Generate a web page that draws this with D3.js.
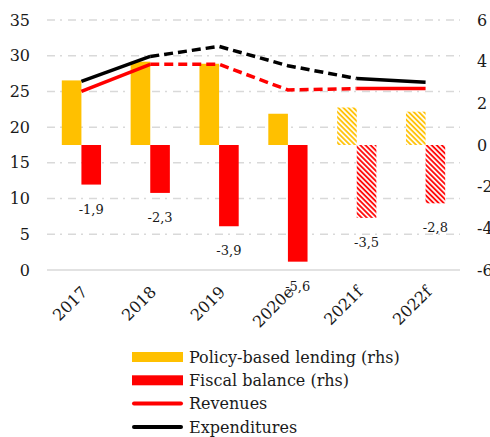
<!DOCTYPE html>
<html>
<head>
<meta charset="utf-8">
<script src="https://cdn.jsdelivr.net/npm/d3@7/dist/d3.min.js"></script>
<style>
  body { margin: 0; background: #fff; }
  svg { display: block; }
  text { font-family: "DejaVu Serif", serif; fill: #1a1a1a; }
</style>
</head>
<body>
<div id="corpo"></div>
<script>
// dados
var years = ["2017", "2018", "2019", "2020e", "2021f", "2022f"];
var forecast = [false, false, false, false, true, true];
var lending = [3.1, 4.0, 3.9, 1.5, 1.8, 1.6];        // rhs
var fiscal = [-1.9, -2.3, -3.9, -5.6, -3.5, -2.8];   // rhs
var revenues = [25.0, 28.8, 28.8, 25.2, 25.4, 25.4]; // lhs
var expenditures = [26.4, 29.9, 31.3, 28.6, 26.8, 26.3];
var leftTicks = [0, 5, 10, 15, 20, 25, 30, 35];
var rightTicks = [-6, -4, -2, 0, 2, 4, 6];
var legendItems = [
  { name: "Policy-based lending (rhs)", type: "bar", color: "#ffc000" },
  { name: "Fiscal balance (rhs)", type: "bar", color: "#ff0000" },
  { name: "Revenues", type: "line", color: "#ff0000" },
  { name: "Expenditures", type: "line", color: "#000000" }
];

var width = 490, height = 437;
var svg = d3.select("#corpo").append("svg")
  .attr("width", width)
  .attr("height", height);

var plotLeft = 47, plotRight = 460, plotTop = 20, plotBottom = 270;

var x = d3.scaleBand()
  .domain(years)
  .range([plotLeft, plotRight])
  .paddingInner(0.43)
  .paddingOuter(0.215);
var bw = x.bandwidth() / 2;
var cx = function(d) { return x(d) + x.bandwidth() / 2; };

var yL = d3.scaleLinear().domain([0, 35]).range([plotBottom, plotTop]);
var yR = d3.scaleLinear().domain([-6, 6]).range([plotBottom, plotTop]);

/* hachuras das previsões */
var defs = svg.append("defs");
function hatch(id, color) {
  var p = defs.append("pattern")
    .attr("id", id)
    .attr("patternUnits", "userSpaceOnUse")
    .attr("width", 3.6)
    .attr("height", 3.6)
    .attr("patternTransform", "rotate(-45)");
  p.append("rect").attr("width", 3.6).attr("height", 3.6).attr("fill", "#fff");
  p.append("line")
    .attr("x1", 1).attr("y1", 0).attr("x2", 1).attr("y2", 3.6)
    .attr("stroke", color).attr("stroke-width", 1.8);
}
hatch("hatch-yellow", "#ffc000");
hatch("hatch-red", "#ff0000");

/* grade */
svg.append("g").selectAll("line")
  .data(leftTicks.filter(function(t) { return t > 0; }))
  .enter().append("line")
  .attr("x1", plotLeft).attr("x2", plotRight)
  .attr("y1", function(d) { return yL(d); })
  .attr("y2", function(d) { return yL(d); })
  .attr("stroke", "#d9d9d9")
  .attr("stroke-width", 1.5)
  .attr("stroke-dasharray", "8,5,2,6");

svg.append("line")
  .attr("x1", plotLeft).attr("x2", plotRight)
  .attr("y1", yL(0)).attr("y2", yL(0))
  .attr("stroke", "#d9d9d9")
  .attr("stroke-width", 1.5);

/* eixos */
var leftAxis = svg.append("g");
leftAxis.selectAll("text")
  .data(leftTicks)
  .enter().append("text")
  .attr("x", 30)
  .attr("y", function(d) { return yL(d); })
  .attr("dy", "0.35em")
  .attr("text-anchor", "end")
  .attr("font-size", 16)
  .text(function(d) { return d; });

var rightAxis = svg.append("g");
rightAxis.selectAll("text")
  .data(rightTicks)
  .enter().append("text")
  .attr("x", 477)
  .attr("y", function(d) { return yR(d); })
  .attr("dy", "0.35em")
  .attr("text-anchor", "start")
  .attr("font-size", 16)
  .text(function(d) { return d; });

svg.append("g").selectAll("text")
  .data(years)
  .enter().append("text")
  .attr("transform", function(d) { return "translate(" + (cx(d) + 7) + "," + 293 + ") rotate(-45)"; })
  .attr("text-anchor", "end")
  .attr("font-size", 16)
  .text(function(d) { return d; });

/* barras */
var bars = svg.append("g");
bars.selectAll("rect.lending")
  .data(years)
  .enter().append("rect")
  .attr("class", "lending")
  .attr("x", function(d) { return x(d); })
  .attr("width", bw)
  .attr("y", function(d, i) { return yR(lending[i]); })
  .attr("height", function(d, i) { return yR(0) - yR(lending[i]); })
  .attr("fill", function(d, i) { return forecast[i] ? "url(#hatch-yellow)" : "#ffc000"; });

bars.selectAll("rect.fiscal")
  .data(years)
  .enter().append("rect")
  .attr("class", "fiscal")
  .attr("x", function(d) { return x(d) + bw; })
  .attr("width", bw)
  .attr("y", yR(0))
  .attr("height", function(d, i) { return yR(fiscal[i]) - yR(0); })
  .attr("fill", function(d, i) { return forecast[i] ? "url(#hatch-red)" : "#ff0000"; });

bars.selectAll("text")
  .data(years)
  .enter().append("text")
  .attr("x", function(d) { return x(d) + bw * 1.5; })
  .attr("y", function(d, i) { return yR(fiscal[i]) + 29; })
  .attr("text-anchor", "middle")
  .attr("font-size", 13)
  .text(function(d, i) { return String(fiscal[i]).replace(".", ","); });

/* linhas: cheias em 2017-18 e 2021-22, tracejadas no meio */
var line = d3.line()
  .x(function(d) { return cx(d.year); })
  .y(function(d) { return yL(d.v); });

function drawSeries(values, color) {
  var pts = years.map(function(y, i) { return { year: y, v: values[i] }; });
  var parts = [
    { pts: pts.slice(0, 2), dash: null },
    { pts: pts.slice(1, 5), dash: "9,5" },
    { pts: pts.slice(4, 6), dash: null }
  ];
  parts.forEach(function(p) {
    svg.append("path")
      .attr("d", line(p.pts))
      .attr("fill", "none")
      .attr("stroke", color)
      .attr("stroke-width", 3.5)
      .attr("stroke-dasharray", p.dash);
  });
}
drawSeries(revenues, "#ff0000");
drawSeries(expenditures, "#000000");

/* legenda */
var legend = svg.append("g").attr("transform", "translate(132,357)");
var item = legend.selectAll("g")
  .data(legendItems)
  .enter().append("g")
  .attr("transform", function(d, i) { return "translate(0," + (i * 23.3) + ")"; });

item.filter(function(d) { return d.type === "bar"; })
  .append("rect")
  .attr("x", 0).attr("y", -5)
  .attr("width", 51).attr("height", 10)
  .attr("fill", function(d) { return d.color; });

item.filter(function(d) { return d.type === "line"; })
  .append("line")
  .attr("x1", 2).attr("x2", 49)
  .attr("stroke", function(d) { return d.color; })
  .attr("stroke-width", 4)
  .attr("stroke-linecap", "round");

item.append("text")
  .attr("x", 57)
  .attr("dy", "0.35em")
  .attr("font-size", 16)
  .text(function(d) { return d.name; });
</script>
</body>
</html>
